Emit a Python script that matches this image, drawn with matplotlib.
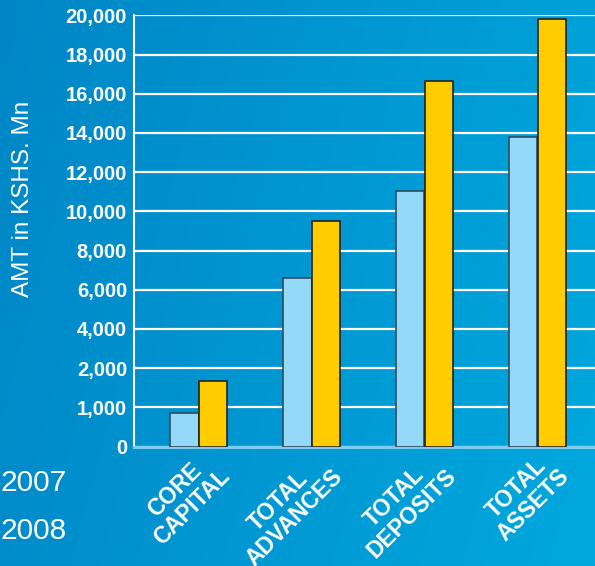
import numpy as np
import matplotlib
matplotlib.use("Agg")
import matplotlib.pyplot as plt
from matplotlib.colors import LinearSegmentedColormap
from matplotlib.transforms import ScaledTranslation

plt.rcParams['font.family'] = ['Liberation Sans', 'DejaVu Sans']

categories = ["CORE\nCAPITAL", "TOTAL\nADVANCES", "TOTAL\nDEPOSITS", "TOTAL\nASSETS"]
vals_2007 = [860, 6600, 11050, 13800]
vals_2008 = [1680, 9500, 16650, 19800]
years = ["2007", "2008"]

# tick levels on the axis are evenly spaced even though the steps are not
levels = [0, 1000, 2000, 4000, 6000, 8000, 10000, 12000, 14000, 16000, 18000, 20000]
idx = np.arange(len(levels))


def fwd(v):
    return np.interp(v, levels, idx)


def inv(v):
    return np.interp(v, idx, levels)


fig = plt.figure(figsize=(5.95, 5.66), dpi=100)

# background gradient
bg = fig.add_axes([0, 0, 1, 1], zorder=-10)
gx, gy = np.meshgrid(np.linspace(0, 1, 300), np.linspace(0, 1, 300))
grad = 0.8 * gx + 0.2 * (1 - gy)
cmap = LinearSegmentedColormap.from_list("bg", ["#0086c6", "#00a8de"])
bg.imshow(grad, cmap=cmap, aspect='auto', extent=[0, 1, 0, 1], origin='lower')
bg.axis('off')

ax = fig.add_axes([134 / 595, 119.5 / 566, 1 - 134 / 595, (446.5 - 15.3) / 566])
ax.patch.set_alpha(0)
ax.set_yscale('function', functions=(fwd, inv))
ax.set_ylim(0, 20000)

x = np.arange(len(categories))
w = 0.25
ax.bar(x - 0.126, vals_2007, w, color='#94daf8', edgecolor='#2d4b5f', linewidth=1.2, zorder=3)
ax.bar(x + 0.126, vals_2008, w, color='#ffcc00', edgecolor='#222222', linewidth=1.2, zorder=3)

ax.set_xlim(-0.573, 3.509)
ax.set_yticks(levels)
ax.set_yticklabels([f"{v:,}" for v in levels], color='white', fontsize=14.5, fontweight='bold')
ax.yaxis.set_minor_locator(matplotlib.ticker.NullLocator())
ax.set_xticks(x)
ax.set_xticklabels(categories, rotation=45, rotation_mode='anchor', ha='right', va='bottom',
                   color='white', fontsize=16.5, fontweight='bold', multialignment='center',
                   linespacing=1.05)
ax.tick_params(axis='both', length=0)
ax.tick_params(axis='y', pad=5)
ax.tick_params(axis='x', pad=25)
for lbl in ax.get_xticklabels():
    lbl.set_transform(lbl.get_transform() + ScaledTranslation(0.36, 0, fig.dpi_scale_trans))

ax.grid(axis='y', color='white', linewidth=1.6, zorder=0)
ax.set_axisbelow(True)
for s in ['top', 'right']:
    ax.spines[s].set_visible(False)
ax.spines['left'].set_color('white')
ax.spines['left'].set_linewidth(1.5)
ax.spines['bottom'].set_color('#7ccdf0')
ax.spines['bottom'].set_linewidth(2.2)

ax.set_ylabel("AMT in KSHS. Mn", color='white', fontsize=17.5)
ax.yaxis.set_label_coords(-0.217, 0.575)

fig.text(0.0, 1 - 483 / 566, years[0], color='white', fontsize=21.5, va='center', ha='left')
fig.text(0.0, 1 - 531 / 566, years[1], color='white', fontsize=21.5, va='center', ha='left')

fig.savefig("out.png", dpi=100)
